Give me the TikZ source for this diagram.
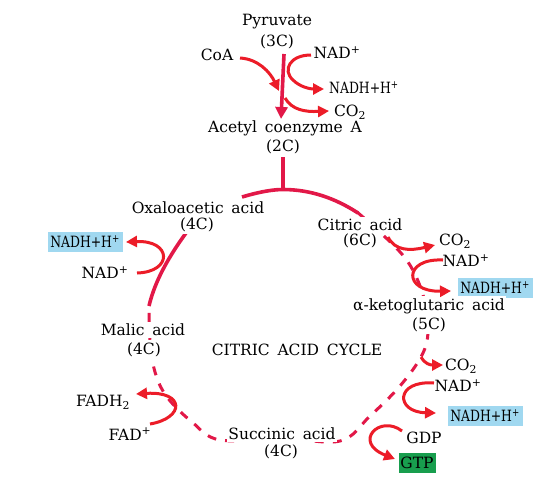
\documentclass[tikz,border=0pt]{standalone}
\usepackage{fontspec}
\setmainfont{DejaVu Serif}
\usepackage{graphicx}
\usetikzlibrary{arrows.meta}
\definecolor{cyc}{RGB}{226,24,72}
\definecolor{arr}{RGB}{236,28,40}
\definecolor{hlblue}{RGB}{160,216,240}
\definecolor{gtpgreen}{RGB}{24,158,78}
\newcommand\lblfont{\fontsize{15.5}{17}\selectfont\spaceskip=0.5em\relax}
\newcommand\nadh{\scalebox{0.8}[1]{NADH+H\textsuperscript{+}}}
\begin{document}
\begin{tikzpicture}[x=1pt,y=-1pt,
  txt/.style={inner sep=1pt, font=\lblfont, text=black},
  ontxt/.style={txt, fill=white, inner ysep=2pt},
  hl/.style={txt, fill=hlblue, minimum width=75pt, minimum height=20pt, inner sep=0pt},
  gtpbox/.style={txt, fill=gtpgreen, minimum width=37pt, minimum height=20pt, inner sep=0pt},
  cycline/.style={draw=cyc, line width=3.6pt},
  cycdash/.style={draw=cyc, line width=3pt, dash pattern=on 9pt off 9pt},
  rarr/.style={draw=arr, line width=3pt, -{Triangle[length=11pt,width=11pt]}},
  mainarr/.style={draw=cyc, line width=3.6pt, -{Triangle[length=12pt,width=12pt]}}
]
\useasboundingbox (0,0) rectangle (545,498);
\fill[white] (0,0) rectangle (545,498);

% cycle (drawn first, text on top hides parts)
\draw[cycdash] plot[smooth, tension=0.6] coordinates {(357,212) (383,235) (408,262) (423,295) (428,330) (422,355) (400,386) (370,416) (340,441) (282,438) (220,440) (192,422) (167,397) (155,372) (150,340) (149,305)};
\draw[cycline] (242,197) .. controls (262,191) and (275,189.5) .. (283,189.5) .. controls (310,189.5) and (335,198) .. (358,213);
\draw[cycline] (186,233) .. controls (170,255) and (155,280) .. (149,306);

% labels
\node[txt] (pyr) at (277,22) {Pyruvate};
\node[txt] (p3c) at (277,42) {(3C)};
\node[txt] (coa) at (217,55) {CoA};
\node[txt] (nad1) at (337,53) {NAD\textsuperscript{+}};
\node[txt, anchor=west] (nadh1) at (328,88) {\nadh};
\node[txt] (co2a) at (350,112) {CO\textsubscript{2}};
\node[txt] (acetyl) at (285,128) {Acetyl coenzyme A};
\node[txt] (a2c) at (283,147) {(2C)};

\node[ontxt] (oxa) at (198,208) {Oxaloacetic acid};
\node[ontxt] (o4c) at (197,225) {(4C)};
\node[hl] (nadhl) at (85,242) {\nadh};
\node[txt] (nadl) at (105,273) {NAD\textsuperscript{+}};

\node[ontxt] (cit) at (360,225) {Citric acid};
\node[ontxt] (c6c) at (360,241) {(6C)};
\node[txt] (co2b) at (455,241) {CO\textsubscript{2}};
\node[txt] (nad2) at (466,261) {NAD\textsuperscript{+}};
\node[hl] (nadh2) at (495,288) {\nadh};
\node[ontxt] (akg) at (429,306) {α-ketoglutaric acid};
\node[ontxt] (k5c) at (429,325) {(5C)};

\node[txt] (cac) at (297,350) {CITRIC ACID CYCLE};
\node[ontxt] (mal) at (143,330) {Malic acid};
\node[ontxt] (m4c) at (144,350) {(4C)};

\node[txt] (co2c) at (461,366) {CO\textsubscript{2}};
\node[txt] (nad3) at (458,386) {NAD\textsuperscript{+}};
\node[hl] (nadh3) at (485,416) {\nadh};
\node[txt] (gdp) at (424,438) {GDP};
\node[gtpbox] (gtp) at (417,463) {GTP};

\node[ontxt] (suc) at (282,434) {Succinic acid};
\node[ontxt] (s4c) at (281,452) {(4C)};
\node[txt] (fadh) at (103,402) {FADH\textsubscript{2}};
\node[txt] (fad) at (130,434) {FAD\textsuperscript{+}};

% coordinates for connector ends
\coordinate (vtop) at (284,54);
\coordinate (vbot) at (281,119);
\coordinate (coaS) at (240,58);
\coordinate (coaE) at (279,91);
\coordinate (n1S) at (311,55);
\coordinate (n1M) at (293,80);
\coordinate (n1E) at (324,89);
\coordinate (c1S) at (285,98);
\coordinate (c1E) at (329,111);
\coordinate (jS) at (283,157);
\coordinate (jE) at (283,190);

% top reactions
\draw[mainarr] (vtop) -- (vbot);
\draw[rarr] (coaS) .. controls (258,59) and (270,72) .. (coaE);
\draw[rarr] (n1S) .. controls (290,55) and (282,70) .. (n1M) .. controls (300,87) and (310,89) .. (n1E);
\draw[rarr] (c1S) .. controls (292,110) and (305,112) .. (c1E);
\draw[cycline] (jS) -- (jE);

% left: oxaloacetic / malic
\coordinate (nlS) at (137,273);
\coordinate (nlE) at (126,242);
\draw[rarr] (nlS) .. controls (173,272) and (172,240) .. (nlE);

% right: citric -> alpha-ketoglutaric
\coordinate (cbS) at (388,237);
\coordinate (cbE) at (435,245);
\draw[rarr] (cbS) .. controls (395,251) and (410,251) .. (cbE);
\coordinate (n2S) at (443,260);
\coordinate (n2E) at (451,291);
\draw[rarr] (n2S) .. controls (403,258) and (403,292) .. (n2E);

% alpha-ketoglutaric -> succinic
\coordinate (ccS) at (421,357);
\coordinate (ccE) at (443,365);
\draw[rarr] (ccS) .. controls (425,364) and (430,365) .. (ccE);
\coordinate (n3S) at (434,383);
\coordinate (n3E) at (436,413);
\draw[rarr] (n3S) .. controls (395,380) and (395,412) .. (n3E);
\coordinate (gS) at (402,431);
\coordinate (gE) at (395,459);
\draw[rarr] (gS) .. controls (380,414) and (352,442) .. (gE);

% succinic -> malic
\coordinate (fS) at (150,424);
\coordinate (fE) at (136,394);
\draw[rarr] (fS) .. controls (185,418) and (185,391) .. (fE);
\end{tikzpicture}
\end{document}
